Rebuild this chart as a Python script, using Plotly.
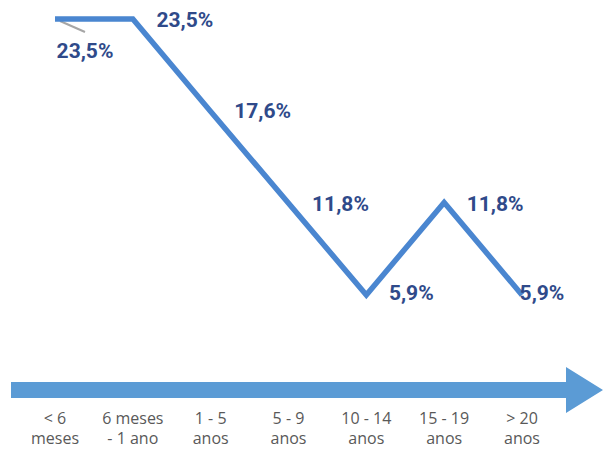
import plotly.graph_objects as go

categories = ["< 6 meses", "6 meses - 1 ano", "1 - 5 anos", "5 - 9 anos",
              "10 - 14 anos", "15 - 19 anos", "> 20 anos"]
row1 = ["< 6", "6 meses", "1 - 5", "5 - 9", "10 - 14", "15 - 19", "> 20"]
row2 = ["meses", "- 1 ano", "anos", "anos", "anos", "anos", "anos"]
values = [23.5, 23.5, 17.6, 11.8, 5.9, 11.8, 5.9]
labels = ["23,5%", "23,5%", "17,6%", "11,8%", "5,9%", "11,8%", "5,9%"]

xs = list(range(len(categories)))

# pixel-to-data helpers (plot area fills the whole 605x449 page)
PX = 77.83
PY = 15.68
def dx(px):
    return (px - 55) / PX
def dy(py):
    return 23.5 - (py - 19) / PY

fig = go.Figure()

# big arrow (background)
path = (f"M {dx(11)},{dy(382)} L {dx(566)},{dy(382)} L {dx(566)},{dy(367)} "
        f"L {dx(603)},{dy(390)} L {dx(566)},{dy(413)} L {dx(566)},{dy(398)} "
        f"L {dx(11)},{dy(398)} Z")
fig.add_shape(type="path", path=path, fillcolor="#5b9bd5", line=dict(width=0), layer="below")

# leader line near first label
fig.add_shape(type="line", x0=dx(60), y0=dy(21), x1=dx(85), y1=dy(32),
              line=dict(color="#a6a6a6", width=2), layer="below")

fig.add_trace(go.Scatter(
    x=xs, y=values, mode="lines",
    line=dict(color="#4a86d0", width=5.5),
    hoverinfo="skip", showlegend=False, cliponaxis=False,
))

# data labels
label_dx = [30, 52, 52, 52, 45, 51, 20]
label_dy = [34, 3, 1.5, 3.5, 0, 3.5, 0]
label_x = [xs[i] + label_dx[i] / PX for i in range(len(xs))]
label_y = [values[i] - label_dy[i] / PY for i in range(len(xs))]
fig.add_trace(go.Scatter(
    x=label_x, y=label_y, mode="text", text=labels,
    textfont=dict(family="Roboto, Arial", size=21, color="#2f4a8a", weight="bold"),
    textposition="middle center", hoverinfo="skip", showlegend=False, cliponaxis=False,
))

# category tick labels (two rows)
fig.add_trace(go.Scatter(
    x=xs, y=[dy(420)] * len(xs), mode="text", text=row1,
    textfont=dict(family="Open Sans, Arial", size=16, color="#595959"),
    hoverinfo="skip", showlegend=False, cliponaxis=False,
))
fig.add_trace(go.Scatter(
    x=xs, y=[dy(440)] * len(xs), mode="text", text=row2,
    textfont=dict(family="Open Sans, Arial", size=16, color="#595959"),
    hoverinfo="skip", showlegend=False, cliponaxis=False,
))

fig.update_layout(
    width=605, height=449,
    margin=dict(l=0, r=0, t=0, b=0),
    paper_bgcolor="white", plot_bgcolor="white",
    xaxis=dict(range=[dx(0), dx(605)], visible=False, fixedrange=True),
    yaxis=dict(range=[dy(449), dy(0)], visible=False, fixedrange=True),
    showlegend=False,
)

fig.write_html("out.html",
               config={"displayModeBar": False, "staticPlot": True},
               post_script="document.body.style.margin='0px';document.body.style.overflow='hidden';")
